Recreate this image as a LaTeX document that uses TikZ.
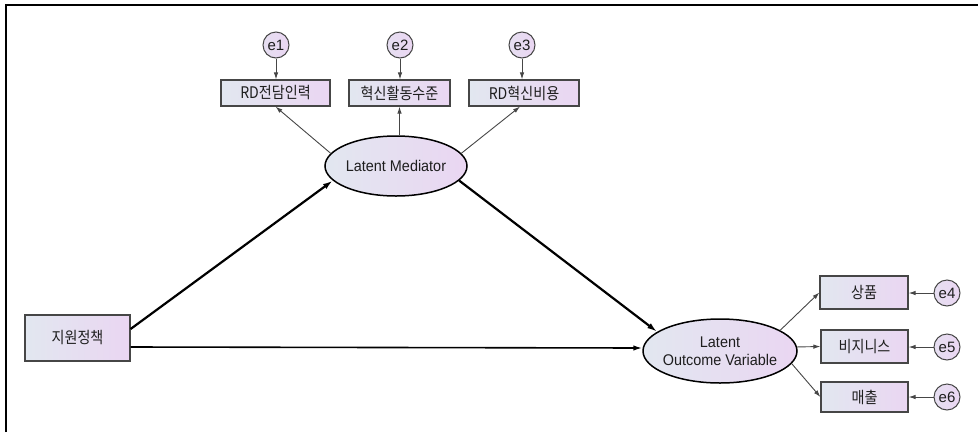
\documentclass[tikz,border=0pt]{standalone}
\usepackage{fontspec}
\setmainfont{Liberation Sans}[FakeStretch=0.93]
\newfontfamily\krfont{Noto Sans CJK KR}[FakeStretch=0.88]
\newfontfamily\errfont{Liberation Sans}
\usetikzlibrary{shapes.geometric,arrows.meta}
\definecolor{fillL}{RGB}{226,231,240}
\definecolor{fillR}{RGB}{234,214,242}
\definecolor{txt}{RGB}{30,30,30}
\definecolor{edgegray}{RGB}{70,70,70}

\begin{document}
\begin{tikzpicture}[x=1pt,y=-1pt,
  font=\fontsize{15.5}{18.5}\selectfont,
  every node/.style={text=txt},
  obs/.style={rectangle, draw=edgegray, line width=1.2pt, left color=fillL, right color=fillR,
    inner sep=0pt, font=\krfont\fontsize{16}{18}\selectfont},
  lat/.style={ellipse, draw=black, line width=1.5pt, left color=fillL, right color=fillR, inner sep=0pt},
  err/.style={circle, draw=edgegray, line width=1pt, left color=fillL!50!fillR, right color=fillR,
    minimum size=26pt, inner sep=0pt, font=\errfont\fontsize{15}{17}\selectfont},
  thinarrow/.style={draw=edgegray, line width=0.9pt, -{Latex[length=7pt,width=4.5pt]}},
  pathbold/.style={draw=black, line width=2.2pt, -{Latex[length=10pt,width=6pt]}},
  pathmid/.style={draw=black, line width=1.6pt, -{Latex[length=9pt,width=5.5pt]}}
]
\useasboundingbox (0,0) rectangle (978,432);

% outer frame (top and left edges only)
\draw[line width=2pt] (6,432) -- (6,5) -- (978,5);

% latent variables
\node[lat, minimum width=142pt, minimum height=60pt,
  label={[text=txt]center:Latent Mediator}] (med) at (396,166) {};
\node[lat, minimum width=154pt, minimum height=64pt,
  label={[align=center, text=txt]center:Latent\\Outcome Variable}] (out) at (720,351) {};

% exogenous observed variable
\node[obs, minimum width=105pt, minimum height=46pt] (sup) at (77.5,338) {지원정책};

% mediator indicators
\node[obs, minimum width=109pt, minimum height=26pt] (rd)   at (275.5,93) {RD전담인력};
\node[obs, minimum width=101pt, minimum height=26pt] (inno) at (399.5,93) {혁신활동수준};
\node[obs, minimum width=110pt, minimum height=26pt] (cost) at (524,93)   {RD혁신비용};

% outcome indicators
\node[obs, minimum width=88pt, minimum height=33pt] (p1) at (864,292.5)   {상품};
\node[obs, minimum width=87pt, minimum height=33pt] (p2) at (864.5,346.5) {비지니스};
\node[obs, minimum width=87pt, minimum height=30pt] (p3) at (864.5,397)   {매출};

% error terms
\node[err] (e1) at (276,45) {e1};
\node[err] (e2) at (400,45) {e2};
\node[err] (e3) at (522,45) {e3};
\node[err] (e4) at (947,293) {e4};
\node[err] (e5) at (947,347) {e5};
\node[err] (e6) at (947,397) {e6};

% structural paths
\draw[pathbold] ([yshift=9pt]sup.east) -- (med.193);
\draw[pathbold] (med.347) -- (out.163);
\draw[pathmid]  ([yshift=-9pt]sup.east) -- ([yshift=3pt]out.west);

% measurement paths
\draw[thinarrow] (med.169) -- (rd.south);
\draw[thinarrow] (inno.south |- med.north) -- (inno.south);
\draw[thinarrow] (med.11) -- ([xshift=-4pt]cost.south);
\draw[thinarrow] (out.19) -- (p1.west);
\draw[thinarrow] (out.3) -- (p2.west);
\draw[thinarrow] (out.350) -- (p3.west);

% error paths
\draw[thinarrow] (e1.south) -- (e1.south |- rd.north);
\draw[thinarrow] (e2.south) -- (e2.south |- inno.north);
\draw[thinarrow] (e3.south) -- (e3.south |- cost.north);
\draw[thinarrow] (e4.west) -- (e4.west -| p1.east);
\draw[thinarrow] (e5.west) -- (e5.west -| p2.east);
\draw[thinarrow] (e6.west) -- (e6.west -| p3.east);
\end{tikzpicture}
\end{document}
